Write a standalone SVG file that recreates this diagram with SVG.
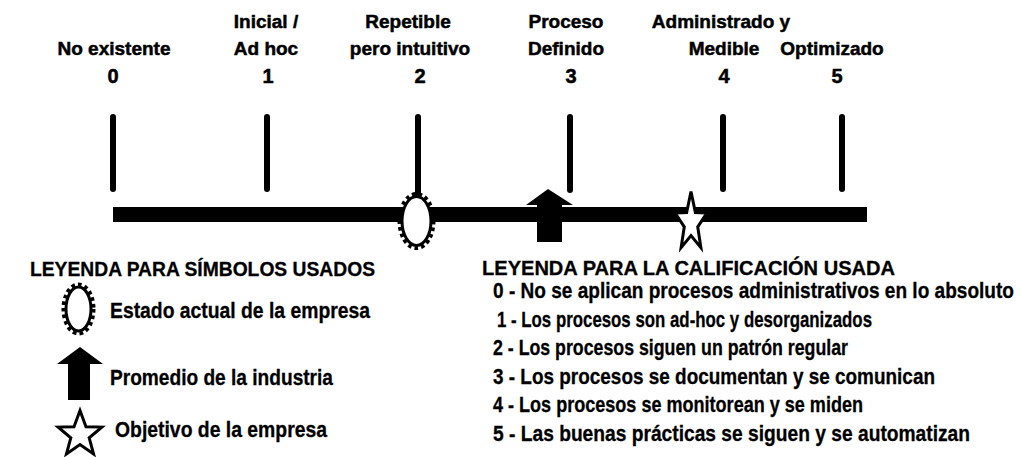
<svg xmlns="http://www.w3.org/2000/svg" xmlns:xlink="http://www.w3.org/1999/xlink" width="1020" height="457" viewBox="0 0 1020 457">
<style>
  .lbl { font-family: "Liberation Sans", Arial, sans-serif; font-weight: bold; font-size: 19px; fill: #000; stroke: #000; stroke-width: 0.5; text-anchor: middle; }
  .num { font-family: "Liberation Sans", Arial, sans-serif; font-weight: bold; font-size: 20px; fill: #000; stroke: #000; stroke-width: 0.5; text-anchor: middle; }
  .ttl { font-family: "Liberation Sans", Arial, sans-serif; font-weight: bold; font-size: 20px; fill: #000; stroke: #000; stroke-width: 0.3; }
  .itm { font-family: "Liberation Sans", Arial, sans-serif; font-weight: bold; font-size: 22px; fill: #000; stroke: #000; stroke-width: 0.3; }
  .tick { stroke: #000; stroke-width: 6; stroke-linecap: round; }
  .sunTeeth { fill: none; stroke: #000; stroke-width: 5; stroke-dasharray: 3.5 3; }
  .sunBody { fill: #fff; stroke: #000; stroke-width: 3; }
  .arrowShape { fill: #000; }
</style>
<defs>
  <polygon id="star" points="0,-10 2.6,-3.2 9.511,-3.09 4.0,1.4 5.878,8.09 0,4.2 -5.878,8.09 -4.0,1.4 -9.511,-3.09 -2.6,-3.2" fill="#fff" stroke="#000" stroke-width="3" stroke-linejoin="miter" vector-effect="non-scaling-stroke"/>
</defs>
<rect width="1020" height="457" fill="#fff"/>

<g id="level-0">
  <text class="lbl" x="114" y="55">No existente</text>
  <text class="num" x="113" y="83">0</text>
  <line class="tick" x1="113" y1="117" x2="113" y2="189"/>
</g>
<g id="level-1">
  <text class="lbl" x="266" y="28">Inicial /</text>
  <text class="lbl" x="266" y="55">Ad hoc</text>
  <text class="num" x="268" y="83">1</text>
  <line class="tick" x1="267" y1="117" x2="267" y2="189"/>
</g>
<g id="level-2">
  <text class="lbl" x="408" y="28">Repetible</text>
  <text class="lbl" x="410" y="55">pero intuitivo</text>
  <text class="num" x="420" y="83">2</text>
  <line class="tick" x1="418" y1="117" x2="418" y2="194"/>
</g>
<g id="level-3">
  <text class="lbl" x="566" y="28">Proceso</text>
  <text class="lbl" x="566" y="55">Definido</text>
  <text class="num" x="571" y="83">3</text>
  <line class="tick" x1="570" y1="117" x2="570" y2="190"/>
</g>
<g id="level-4">
  <text class="lbl" x="721" y="28">Administrado y</text>
  <text class="lbl" x="724" y="55">Medible</text>
  <text class="num" x="724" y="83">4</text>
  <line class="tick" x1="723" y1="117" x2="723" y2="189"/>
</g>
<g id="level-5">
  <text class="lbl" x="832" y="55">Optimizado</text>
  <text class="num" x="837" y="83">5</text>
  <line class="tick" x1="842" y1="117" x2="842" y2="189"/>
</g>

<g id="connectors">
  <rect id="timeline-bar" x="113" y="207" width="754" height="15" fill="#000"/>
</g>

<g id="marker-current">
  <ellipse class="sunTeeth" cx="416.5" cy="221" rx="16.5" ry="26.5"/>
  <ellipse class="sunBody" cx="416.5" cy="221" rx="14.5" ry="24.5"/>
</g>
<g id="marker-industry">
  <path class="arrowShape" d="M548,189 L573,205 L562,205 L562,242 L537,242 L537,205 L526,205 Z"/>
</g>
<g id="marker-target">
  <use xlink:href="#star" transform="translate(691,222.5) scale(1.68,3.1)"/>
</g>

<g id="legend-symbols">
  <text class="ttl" x="30" y="276" textLength="345" lengthAdjust="spacingAndGlyphs">LEYENDA PARA SÍMBOLOS USADOS</text>
  <g id="legend-current">
    <ellipse class="sunTeeth" cx="78.5" cy="309" rx="14.5" ry="24"/>
    <ellipse class="sunBody" cx="78.5" cy="309" rx="12.5" ry="22"/>
    <text class="itm" x="110" y="318" textLength="260" lengthAdjust="spacingAndGlyphs">Estado actual de la empresa</text>
  </g>
  <g id="legend-industry">
    <path class="arrowShape" d="M80,347 L103,364 L90,364 L90,400 L68,400 L68,364 L57,364 Z"/>
    <text class="itm" x="110" y="385" textLength="223" lengthAdjust="spacingAndGlyphs">Promedio de la industria</text>
  </g>
  <g id="legend-target">
    <use xlink:href="#star" transform="translate(80,434.5) scale(2.3,2.4)"/>
    <text class="itm" x="115" y="437" textLength="212" lengthAdjust="spacingAndGlyphs">Objetivo de la empresa</text>
  </g>
</g>

<g id="legend-rating">
  <text class="ttl" x="482" y="275" textLength="413" lengthAdjust="spacingAndGlyphs">LEYENDA PARA LA CALIFICACIÓN USADA</text>
  <text class="itm" x="493" y="298" textLength="521" lengthAdjust="spacingAndGlyphs">0 - No se aplican procesos administrativos en lo absoluto</text>
  <text class="itm" x="497" y="327" textLength="375" lengthAdjust="spacingAndGlyphs">1 - Los procesos son ad-hoc y desorganizados</text>
  <text class="itm" x="493" y="355" textLength="355" lengthAdjust="spacingAndGlyphs">2 - Los procesos siguen un patrón regular</text>
  <text class="itm" x="493" y="384" textLength="442" lengthAdjust="spacingAndGlyphs">3 - Los procesos se documentan y se comunican</text>
  <text class="itm" x="493" y="412" textLength="370" lengthAdjust="spacingAndGlyphs">4 - Los procesos se monitorean y se miden</text>
  <text class="itm" x="493" y="441" textLength="477" lengthAdjust="spacingAndGlyphs">5 - Las buenas prácticas se siguen y se automatizan</text>
</g>
</svg>
